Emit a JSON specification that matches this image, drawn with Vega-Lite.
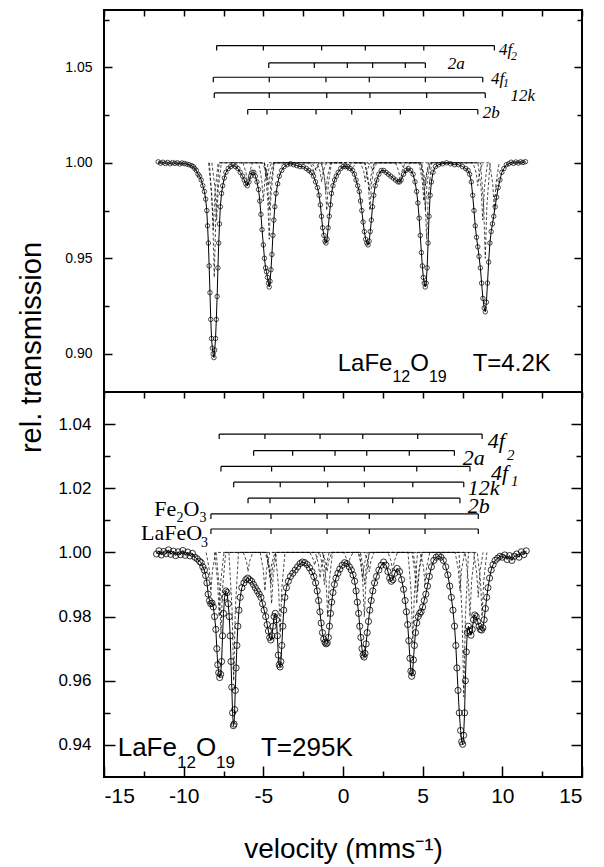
{
"$schema": "https://vega.github.io/schema/vega-lite/v6.json",
"autosize": {"type": "pad"},
"padding": {"left": 16, "top": 8, "right": 5, "bottom": 5},
"background": "white",
"bounds": "flush",
"spacing": 0,
"config": {"view": {"stroke": "black", "strokeWidth": 2}, "axis": {"domain": false, "grid": false, "tickColor": "black", "tickWidth": 1.5, "labelColor": "black", "labelFont": "Liberation Sans", "titleFont": "Liberation Sans", "titleColor": "black", "titleFontWeight": "normal"}},
"datasets": {
"top": [{"v":-11.6,"t":1.0005},{"v":-11.45,"t":0.9998},{"v":-11.3,"t":1.0003},{"v":-11.15,"t":0.9996},{"v":-11.0,"t":1.0002},{"v":-10.85,"t":0.9995},{"v":-10.7,"t":1.0001},{"v":-10.55,"t":0.9997},{"v":-10.4,"t":1.0},{"v":-10.25,"t":0.9994},{"v":-10.1,"t":0.9999},{"v":-9.95,"t":0.9996},{"v":-9.8,"t":0.9993},{"v":-9.65,"t":0.999},{"v":-9.5,"t":0.9985},{"v":-9.4,"t":0.998},{"v":-9.3,"t":0.997},{"v":-9.2,"t":0.996},{"v":-9.1,"t":0.994},{"v":-9.0,"t":0.993},{"v":-8.9,"t":0.991},{"v":-8.8,"t":0.988},{"v":-8.7,"t":0.985},{"v":-8.62,"t":0.981},{"v":-8.55,"t":0.975},{"v":-8.5,"t":0.967},{"v":-8.45,"t":0.958},{"v":-8.4,"t":0.946},{"v":-8.35,"t":0.932},{"v":-8.3,"t":0.918},{"v":-8.25,"t":0.908},{"v":-8.2,"t":0.903},{"v":-8.15,"t":0.9},{"v":-8.1,"t":0.898},{"v":-8.05,"t":0.902},{"v":-8.0,"t":0.908},{"v":-7.95,"t":0.918},{"v":-7.9,"t":0.93},{"v":-7.85,"t":0.945},{"v":-7.8,"t":0.958},{"v":-7.75,"t":0.968},{"v":-7.7,"t":0.977},{"v":-7.62,"t":0.984},{"v":-7.55,"t":0.988},{"v":-7.45,"t":0.992},{"v":-7.35,"t":0.995},{"v":-7.2,"t":0.997},{"v":-7.05,"t":0.998},{"v":-6.9,"t":0.999},{"v":-6.75,"t":0.998},{"v":-6.6,"t":0.997},{"v":-6.45,"t":0.995},{"v":-6.3,"t":0.993},{"v":-6.2,"t":0.991},{"v":-6.1,"t":0.989},{"v":-6.0,"t":0.988},{"v":-5.9,"t":0.99},{"v":-5.8,"t":0.993},{"v":-5.7,"t":0.995},{"v":-5.6,"t":0.995},{"v":-5.5,"t":0.993},{"v":-5.4,"t":0.99},{"v":-5.3,"t":0.986},{"v":-5.22,"t":0.98},{"v":-5.15,"t":0.973},{"v":-5.08,"t":0.965},{"v":-5.0,"t":0.957},{"v":-4.93,"t":0.95},{"v":-4.86,"t":0.945},{"v":-4.8,"t":0.943},{"v":-4.74,"t":0.94},{"v":-4.68,"t":0.937},{"v":-4.63,"t":0.935},{"v":-4.58,"t":0.938},{"v":-4.52,"t":0.944},{"v":-4.46,"t":0.952},{"v":-4.4,"t":0.962},{"v":-4.34,"t":0.97},{"v":-4.28,"t":0.977},{"v":-4.2,"t":0.984},{"v":-4.1,"t":0.989},{"v":-4.0,"t":0.993},{"v":-3.85,"t":0.996},{"v":-3.7,"t":0.998},{"v":-3.5,"t":0.999},{"v":-3.3,"t":0.9995},{"v":-3.1,"t":0.999},{"v":-2.9,"t":0.9985},{"v":-2.7,"t":0.998},{"v":-2.5,"t":0.998},{"v":-2.3,"t":0.997},{"v":-2.15,"t":0.996},{"v":-2.0,"t":0.995},{"v":-1.85,"t":0.993},{"v":-1.72,"t":0.99},{"v":-1.6,"t":0.987},{"v":-1.5,"t":0.983},{"v":-1.42,"t":0.978},{"v":-1.35,"t":0.972},{"v":-1.28,"t":0.966},{"v":-1.2,"t":0.962},{"v":-1.13,"t":0.959},{"v":-1.07,"t":0.958},{"v":-1.0,"t":0.96},{"v":-0.93,"t":0.966},{"v":-0.86,"t":0.972},{"v":-0.79,"t":0.978},{"v":-0.72,"t":0.984},{"v":-0.63,"t":0.988},{"v":-0.53,"t":0.991},{"v":-0.42,"t":0.993},{"v":-0.3,"t":0.995},{"v":-0.15,"t":0.997},{"v":0.0,"t":0.998},{"v":0.15,"t":0.998},{"v":0.3,"t":0.998},{"v":0.45,"t":0.997},{"v":0.6,"t":0.996},{"v":0.72,"t":0.994},{"v":0.82,"t":0.991},{"v":0.92,"t":0.988},{"v":1.02,"t":0.985},{"v":1.1,"t":0.98},{"v":1.18,"t":0.975},{"v":1.26,"t":0.969},{"v":1.34,"t":0.964},{"v":1.42,"t":0.96},{"v":1.5,"t":0.958},{"v":1.57,"t":0.957},{"v":1.64,"t":0.959},{"v":1.71,"t":0.964},{"v":1.78,"t":0.97},{"v":1.85,"t":0.977},{"v":1.93,"t":0.983},{"v":2.02,"t":0.988},{"v":2.12,"t":0.991},{"v":2.25,"t":0.994},{"v":2.4,"t":0.996},{"v":2.55,"t":0.996},{"v":2.7,"t":0.995},{"v":2.85,"t":0.994},{"v":3.0,"t":0.993},{"v":3.15,"t":0.992},{"v":3.3,"t":0.991},{"v":3.45,"t":0.99},{"v":3.55,"t":0.99},{"v":3.65,"t":0.991},{"v":3.8,"t":0.994},{"v":3.95,"t":0.996},{"v":4.1,"t":0.997},{"v":4.25,"t":0.996},{"v":4.4,"t":0.994},{"v":4.52,"t":0.99},{"v":4.62,"t":0.985},{"v":4.7,"t":0.979},{"v":4.78,"t":0.971},{"v":4.85,"t":0.962},{"v":4.92,"t":0.953},{"v":4.98,"t":0.946},{"v":5.04,"t":0.94},{"v":5.1,"t":0.937},{"v":5.16,"t":0.935},{"v":5.22,"t":0.937},{"v":5.28,"t":0.945},{"v":5.34,"t":0.958},{"v":5.4,"t":0.972},{"v":5.47,"t":0.983},{"v":5.55,"t":0.99},{"v":5.65,"t":0.995},{"v":5.8,"t":0.998},{"v":6.0,"t":0.999},{"v":6.25,"t":0.9995},{"v":6.5,"t":1.0},{"v":6.75,"t":0.9995},{"v":7.0,"t":0.999},{"v":7.25,"t":0.999},{"v":7.5,"t":0.998},{"v":7.7,"t":0.997},{"v":7.85,"t":0.996},{"v":7.95,"t":0.994},{"v":8.05,"t":0.99},{"v":8.14,"t":0.983},{"v":8.22,"t":0.975},{"v":8.3,"t":0.967},{"v":8.38,"t":0.961},{"v":8.46,"t":0.956},{"v":8.54,"t":0.951},{"v":8.62,"t":0.945},{"v":8.7,"t":0.937},{"v":8.78,"t":0.929},{"v":8.86,"t":0.924},{"v":8.93,"t":0.922},{"v":9.0,"t":0.927},{"v":9.07,"t":0.937},{"v":9.14,"t":0.948},{"v":9.22,"t":0.958},{"v":9.3,"t":0.964},{"v":9.38,"t":0.968},{"v":9.46,"t":0.972},{"v":9.55,"t":0.977},{"v":9.64,"t":0.982},{"v":9.74,"t":0.987},{"v":9.85,"t":0.991},{"v":9.97,"t":0.995},{"v":10.1,"t":0.997},{"v":10.25,"t":0.999},{"v":10.4,"t":0.9995},{"v":10.55,"t":1.0003},{"v":10.7,"t":0.9997},{"v":10.85,"t":1.0004},{"v":11.0,"t":0.9999},{"v":11.15,"t":1.0005},{"v":11.3,"t":1.0002},{"v":11.45,"t":1.0006}],
"topc": [
{"c":"12k","v":-8.38,"t":1},{"c":"12k","v":-8.18,"t":0.973},{"c":"12k","v":-8.08,"t":0.94},{"c":"12k","v":-7.98,"t":0.973},{"c":"12k","v":-7.78,"t":1},
{"c":"12k","v":-4.93,"t":1},{"c":"12k","v":-4.73,"t":0.982},{"c":"12k","v":-4.63,"t":0.96},{"c":"12k","v":-4.53,"t":0.982},{"c":"12k","v":-4.33,"t":1},
{"c":"12k","v":-1.32,"t":1},{"c":"12k","v":-1.12,"t":0.989},{"c":"12k","v":-1.02,"t":0.975},{"c":"12k","v":-0.92,"t":0.989},{"c":"12k","v":-0.72,"t":1},
{"c":"12k","v":1.39,"t":1},{"c":"12k","v":1.59,"t":0.989},{"c":"12k","v":1.69,"t":0.975},{"c":"12k","v":1.79,"t":0.989},{"c":"12k","v":1.99,"t":1},
{"c":"12k","v":4.95,"t":1},{"c":"12k","v":5.15,"t":0.982},{"c":"12k","v":5.25,"t":0.96},{"c":"12k","v":5.35,"t":0.982},{"c":"12k","v":5.55,"t":1},
{"c":"12k","v":8.63,"t":1},{"c":"12k","v":8.83,"t":0.9775},{"c":"12k","v":8.93,"t":0.95},{"c":"12k","v":9.03,"t":0.9775},{"c":"12k","v":9.23,"t":1},
{"c":"4f1","v":-8.44,"t":1},{"c":"4f1","v":-8.24,"t":0.984},{"c":"4f1","v":-8.14,"t":0.965},{"c":"4f1","v":-8.04,"t":0.984},{"c":"4f1","v":-7.84,"t":1},
{"c":"4f1","v":-4.93,"t":1},{"c":"4f1","v":-4.73,"t":0.989},{"c":"4f1","v":-4.63,"t":0.975},{"c":"4f1","v":-4.53,"t":0.989},{"c":"4f1","v":-4.33,"t":1},
{"c":"4f1","v":-1.37,"t":1},{"c":"4f1","v":-1.17,"t":0.993},{"c":"4f1","v":-1.07,"t":0.985},{"c":"4f1","v":-0.97,"t":0.993},{"c":"4f1","v":-0.77,"t":1},
{"c":"4f1","v":1.35,"t":1},{"c":"4f1","v":1.55,"t":0.993},{"c":"4f1","v":1.65,"t":0.985},{"c":"4f1","v":1.75,"t":0.993},{"c":"4f1","v":1.95,"t":1},
{"c":"4f1","v":4.87,"t":1},{"c":"4f1","v":5.07,"t":0.989},{"c":"4f1","v":5.17,"t":0.975},{"c":"4f1","v":5.27,"t":0.989},{"c":"4f1","v":5.47,"t":1},
{"c":"4f1","v":8.47,"t":1},{"c":"4f1","v":8.67,"t":0.9865},{"c":"4f1","v":8.77,"t":0.97},{"c":"4f1","v":8.87,"t":0.9865},{"c":"4f1","v":9.07,"t":1},
{"c":"4f2","v":-8.23,"t":1},{"c":"4f2","v":-8.03,"t":0.9865},{"c":"4f2","v":-7.93,"t":0.97},{"c":"4f2","v":-7.83,"t":0.9865},{"c":"4f2","v":-7.63,"t":1},
{"c":"4f2","v":-5.3,"t":1},{"c":"4f2","v":-5.1,"t":0.991},{"c":"4f2","v":-5.0,"t":0.98},{"c":"4f2","v":-4.9,"t":0.991},{"c":"4f2","v":-4.7,"t":1},
{"c":"4f2","v":-1.64,"t":1},{"c":"4f2","v":-1.44,"t":0.9955},{"c":"4f2","v":-1.34,"t":0.99},{"c":"4f2","v":-1.24,"t":0.9955},{"c":"4f2","v":-1.04,"t":1},
{"c":"4f2","v":1.1,"t":1},{"c":"4f2","v":1.3,"t":0.9955},{"c":"4f2","v":1.4,"t":0.99},{"c":"4f2","v":1.5,"t":0.9955},{"c":"4f2","v":1.7,"t":1},
{"c":"4f2","v":4.77,"t":1},{"c":"4f2","v":4.97,"t":0.991},{"c":"4f2","v":5.07,"t":0.98},{"c":"4f2","v":5.17,"t":0.991},{"c":"4f2","v":5.37,"t":1},
{"c":"4f2","v":9.2,"t":1},{"c":"4f2","v":9.4,"t":0.989},{"c":"4f2","v":9.5,"t":0.975},{"c":"4f2","v":9.6,"t":0.989},{"c":"4f2","v":9.8,"t":1},
{"c":"2a","v":-4.96,"t":1},{"c":"2a","v":-4.76,"t":0.9946},{"c":"2a","v":-4.66,"t":0.988},{"c":"2a","v":-4.56,"t":0.9946},{"c":"2a","v":-4.36,"t":1},
{"c":"2a","v":-2.1,"t":1},{"c":"2a","v":-1.9,"t":0.9973},{"c":"2a","v":-1.8,"t":0.994},{"c":"2a","v":-1.7,"t":0.9973},{"c":"2a","v":-1.5,"t":1},
{"c":"2a","v":-0.03,"t":1},{"c":"2a","v":0.17,"t":0.998},{"c":"2a","v":0.27,"t":0.996},{"c":"2a","v":0.37,"t":0.998},{"c":"2a","v":0.57,"t":1},
{"c":"2a","v":1.56,"t":1},{"c":"2a","v":1.76,"t":0.998},{"c":"2a","v":1.86,"t":0.996},{"c":"2a","v":1.96,"t":0.998},{"c":"2a","v":2.16,"t":1},
{"c":"2a","v":3.61,"t":1},{"c":"2a","v":3.81,"t":0.9973},{"c":"2a","v":3.91,"t":0.994},{"c":"2a","v":4.01,"t":0.9973},{"c":"2a","v":4.21,"t":1},
{"c":"2a","v":4.87,"t":1},{"c":"2a","v":5.07,"t":0.9946},{"c":"2a","v":5.17,"t":0.988},{"c":"2a","v":5.27,"t":0.9946},{"c":"2a","v":5.47,"t":1},
{"c":"2b","v":-6.28,"t":1},{"c":"2b","v":-6.08,"t":0.9946},{"c":"2b","v":-5.98,"t":0.988},{"c":"2b","v":-5.88,"t":0.9946},{"c":"2b","v":-5.68,"t":1},
{"c":"2b","v":-5.07,"t":1},{"c":"2b","v":-4.87,"t":0.9964},{"c":"2b","v":-4.77,"t":0.992},{"c":"2b","v":-4.67,"t":0.9964},{"c":"2b","v":-4.47,"t":1},
{"c":"2b","v":-1.99,"t":1},{"c":"2b","v":-1.79,"t":0.998},{"c":"2b","v":-1.69,"t":0.996},{"c":"2b","v":-1.59,"t":0.998},{"c":"2b","v":-1.39,"t":1},
{"c":"2b","v":0.25,"t":1},{"c":"2b","v":0.45,"t":0.998},{"c":"2b","v":0.55,"t":0.996},{"c":"2b","v":0.65,"t":0.998},{"c":"2b","v":0.85,"t":1},
{"c":"2b","v":3.3,"t":1},{"c":"2b","v":3.5,"t":0.9955},{"c":"2b","v":3.6,"t":0.99},{"c":"2b","v":3.7,"t":0.9955},{"c":"2b","v":3.9,"t":1},
{"c":"2b","v":8.16,"t":1},{"c":"2b","v":8.36,"t":0.9946},{"c":"2b","v":8.46,"t":0.988},{"c":"2b","v":8.56,"t":0.9946},{"c":"2b","v":8.76,"t":1}],
"tops": [
{"s":"4f2","v":-7.93,"t":1.0614},{"s":"4f2","v":-5.0,"t":1.0614},{"s":"4f2","v":-1.34,"t":1.0614},{"s":"4f2","v":1.4,"t":1.0614},{"s":"4f2","v":5.07,"t":1.0614},{"s":"4f2","v":9.5,"t":1.0614},
{"s":"2a","v":-4.66,"t":1.0523},{"s":"2a","v":-1.8,"t":1.0523},{"s":"2a","v":0.27,"t":1.0523},{"s":"2a","v":1.86,"t":1.0523},{"s":"2a","v":3.91,"t":1.0523},{"s":"2a","v":5.17,"t":1.0523},
{"s":"4f1","v":-8.14,"t":1.0448},{"s":"4f1","v":-4.63,"t":1.0448},{"s":"4f1","v":-1.07,"t":1.0448},{"s":"4f1","v":1.65,"t":1.0448},{"s":"4f1","v":5.17,"t":1.0448},{"s":"4f1","v":8.77,"t":1.0448},
{"s":"12k","v":-8.08,"t":1.0366},{"s":"12k","v":-4.63,"t":1.0366},{"s":"12k","v":-1.02,"t":1.0366},{"s":"12k","v":1.69,"t":1.0366},{"s":"12k","v":5.25,"t":1.0366},{"s":"12k","v":8.93,"t":1.0366},
{"s":"2b","v":-5.98,"t":1.0279},{"s":"2b","v":-4.77,"t":1.0279},{"s":"2b","v":-1.69,"t":1.0279},{"s":"2b","v":0.55,"t":1.0279},{"s":"2b","v":3.6,"t":1.0279},{"s":"2b","v":8.46,"t":1.0279}],
"toplab": [{"v":9.79,"t":1.0562,"txt":"4f"},{"v":6.57,"t":1.0492,"txt":"2a"},{"v":9.29,"t":1.0415,"txt":"4f"},{"v":10.52,"t":1.0326,"txt":"12k"},{"v":8.77,"t":1.0236,"txt":"2b"}],
"toplabsub": [{"v":10.55,"t":1.0536,"txt":"2"},{"v":10.04,"t":1.0399,"txt":"1"}],
"topann": [{"v":-0.33,"t":0.891,"txt":"LaFe"},{"v":4.22,"t":0.891,"txt":"O"},{"v":8.14,"t":0.891,"txt":"T=4.2K"}],
"topannsub": [{"v":3.1,"t":0.8851,"txt":"12"},{"v":5.39,"t":0.8851,"txt":"19"}],
"bot": [{"v":-11.7,"t":0.9995},{"v":-11.55,"t":1.0005},{"v":-11.4,"t":0.9992},{"v":-11.25,"t":1.0003},{"v":-11.1,"t":0.9996},{"v":-10.95,"t":1.0008},{"v":-10.8,"t":0.9994},{"v":-10.65,"t":1.0004},{"v":-10.5,"t":0.999},{"v":-10.35,"t":1.0002},{"v":-10.2,"t":0.9993},{"v":-10.05,"t":1.0006},{"v":-9.9,"t":0.9991},{"v":-9.75,"t":1.0001},{"v":-9.6,"t":0.9989},{"v":-9.45,"t":0.9997},{"v":-9.3,"t":0.9985},{"v":-9.15,"t":0.998},{"v":-9.0,"t":0.9972},{"v":-8.9,"t":0.9968},{"v":-8.8,"t":0.9955},{"v":-8.7,"t":0.9945},{"v":-8.62,"t":0.9928},{"v":-8.54,"t":0.9905},{"v":-8.46,"t":0.987},{"v":-8.38,"t":0.985},{"v":-8.3,"t":0.984},{"v":-8.22,"t":0.9842},{"v":-8.14,"t":0.983},{"v":-8.06,"t":0.98},{"v":-7.98,"t":0.976},{"v":-7.92,"t":0.97},{"v":-7.86,"t":0.965},{"v":-7.8,"t":0.9625},{"v":-7.74,"t":0.961},{"v":-7.68,"t":0.962},{"v":-7.62,"t":0.966},{"v":-7.56,"t":0.974},{"v":-7.5,"t":0.981},{"v":-7.43,"t":0.986},{"v":-7.35,"t":0.988},{"v":-7.28,"t":0.9875},{"v":-7.2,"t":0.984},{"v":-7.14,"t":0.98},{"v":-7.08,"t":0.974},{"v":-7.03,"t":0.966},{"v":-6.98,"t":0.958},{"v":-6.93,"t":0.95},{"v":-6.88,"t":0.946},{"v":-6.84,"t":0.9465},{"v":-6.8,"t":0.951},{"v":-6.76,"t":0.957},{"v":-6.71,"t":0.964},{"v":-6.66,"t":0.971},{"v":-6.6,"t":0.977},{"v":-6.53,"t":0.982},{"v":-6.45,"t":0.986},{"v":-6.35,"t":0.989},{"v":-6.22,"t":0.9905},{"v":-6.1,"t":0.9915},{"v":-5.98,"t":0.992},{"v":-5.86,"t":0.9915},{"v":-5.74,"t":0.991},{"v":-5.62,"t":0.99},{"v":-5.5,"t":0.989},{"v":-5.38,"t":0.988},{"v":-5.26,"t":0.987},{"v":-5.15,"t":0.986},{"v":-5.05,"t":0.984},{"v":-4.95,"t":0.982},{"v":-4.85,"t":0.98},{"v":-4.76,"t":0.9775},{"v":-4.68,"t":0.9755},{"v":-4.6,"t":0.9735},{"v":-4.53,"t":0.9727},{"v":-4.46,"t":0.974},{"v":-4.39,"t":0.977},{"v":-4.32,"t":0.98},{"v":-4.25,"t":0.981},{"v":-4.18,"t":0.979},{"v":-4.12,"t":0.974},{"v":-4.06,"t":0.968},{"v":-4.0,"t":0.965},{"v":-3.95,"t":0.9643},{"v":-3.9,"t":0.966},{"v":-3.84,"t":0.971},{"v":-3.78,"t":0.977},{"v":-3.72,"t":0.982},{"v":-3.65,"t":0.986},{"v":-3.55,"t":0.989},{"v":-3.43,"t":0.991},{"v":-3.3,"t":0.9925},{"v":-3.15,"t":0.9935},{"v":-3.0,"t":0.9945},{"v":-2.85,"t":0.9955},{"v":-2.7,"t":0.9965},{"v":-2.55,"t":0.997},{"v":-2.4,"t":0.9968},{"v":-2.25,"t":0.9962},{"v":-2.1,"t":0.9952},{"v":-1.95,"t":0.994},{"v":-1.83,"t":0.9925},{"v":-1.72,"t":0.9905},{"v":-1.62,"t":0.988},{"v":-1.53,"t":0.985},{"v":-1.45,"t":0.9815},{"v":-1.37,"t":0.978},{"v":-1.29,"t":0.975},{"v":-1.21,"t":0.973},{"v":-1.13,"t":0.972},{"v":-1.06,"t":0.9715},{"v":-0.99,"t":0.9718},{"v":-0.92,"t":0.9735},{"v":-0.85,"t":0.977},{"v":-0.78,"t":0.981},{"v":-0.71,"t":0.9845},{"v":-0.63,"t":0.9875},{"v":-0.54,"t":0.99},{"v":-0.44,"t":0.992},{"v":-0.32,"t":0.9935},{"v":-0.2,"t":0.9948},{"v":-0.05,"t":0.996},{"v":0.1,"t":0.9968},{"v":0.25,"t":0.9965},{"v":0.4,"t":0.9955},{"v":0.52,"t":0.9945},{"v":0.63,"t":0.993},{"v":0.73,"t":0.991},{"v":0.82,"t":0.988},{"v":0.9,"t":0.9845},{"v":0.98,"t":0.981},{"v":1.05,"t":0.977},{"v":1.12,"t":0.9735},{"v":1.19,"t":0.97},{"v":1.26,"t":0.968},{"v":1.32,"t":0.9674},{"v":1.38,"t":0.9685},{"v":1.45,"t":0.9715},{"v":1.52,"t":0.975},{"v":1.6,"t":0.9785},{"v":1.68,"t":0.982},{"v":1.77,"t":0.985},{"v":1.87,"t":0.988},{"v":1.98,"t":0.9905},{"v":2.1,"t":0.9925},{"v":2.25,"t":0.9945},{"v":2.4,"t":0.996},{"v":2.55,"t":0.997},{"v":2.7,"t":0.996},{"v":2.82,"t":0.994},{"v":2.93,"t":0.992},{"v":3.03,"t":0.991},{"v":3.13,"t":0.9915},{"v":3.25,"t":0.9935},{"v":3.4,"t":0.995},{"v":3.55,"t":0.994},{"v":3.68,"t":0.9915},{"v":3.8,"t":0.9885},{"v":3.9,"t":0.985},{"v":3.98,"t":0.9815},{"v":4.06,"t":0.9775},{"v":4.13,"t":0.9725},{"v":4.2,"t":0.967},{"v":4.26,"t":0.963},{"v":4.31,"t":0.9614},{"v":4.36,"t":0.9625},{"v":4.42,"t":0.9665},{"v":4.48,"t":0.971},{"v":4.55,"t":0.975},{"v":4.63,"t":0.978},{"v":4.72,"t":0.98},{"v":4.81,"t":0.981},{"v":4.9,"t":0.9815},{"v":5.0,"t":0.983},{"v":5.1,"t":0.985},{"v":5.2,"t":0.987},{"v":5.3,"t":0.9895},{"v":5.42,"t":0.9925},{"v":5.55,"t":0.9955},{"v":5.7,"t":0.9975},{"v":5.85,"t":0.9985},{"v":6.0,"t":0.999},{"v":6.15,"t":0.9985},{"v":6.3,"t":0.9975},{"v":6.45,"t":0.9955},{"v":6.58,"t":0.993},{"v":6.7,"t":0.9895},{"v":6.8,"t":0.986},{"v":6.9,"t":0.982},{"v":7.0,"t":0.977},{"v":7.08,"t":0.971},{"v":7.15,"t":0.964},{"v":7.22,"t":0.957},{"v":7.3,"t":0.95},{"v":7.38,"t":0.9445},{"v":7.45,"t":0.941},{"v":7.51,"t":0.9402},{"v":7.57,"t":0.943},{"v":7.63,"t":0.95},{"v":7.68,"t":0.96},{"v":7.74,"t":0.969},{"v":7.8,"t":0.975},{"v":7.87,"t":0.977},{"v":7.95,"t":0.9755},{"v":8.03,"t":0.9742},{"v":8.11,"t":0.976},{"v":8.19,"t":0.979},{"v":8.27,"t":0.9805},{"v":8.36,"t":0.98},{"v":8.45,"t":0.9785},{"v":8.54,"t":0.977},{"v":8.62,"t":0.976},{"v":8.7,"t":0.9758},{"v":8.78,"t":0.9765},{"v":8.86,"t":0.979},{"v":8.94,"t":0.9825},{"v":9.02,"t":0.986},{"v":9.1,"t":0.989},{"v":9.2,"t":0.992},{"v":9.3,"t":0.9945},{"v":9.42,"t":0.9962},{"v":9.55,"t":0.9975},{"v":9.7,"t":0.9982},{"v":9.85,"t":0.9988},{"v":10.0,"t":0.9985},{"v":10.15,"t":0.9992},{"v":10.3,"t":0.9978},{"v":10.45,"t":0.999},{"v":10.6,"t":0.9975},{"v":10.75,"t":0.9988},{"v":10.9,"t":0.9995},{"v":11.05,"t":0.9985},{"v":11.2,"t":1.0002},{"v":11.35,"t":0.9993},{"v":11.5,"t":1.0005}],
"botc": [
{"c":"12k","v":-7.16,"t":1},{"c":"12k","v":-6.96,"t":0.982},{"c":"12k","v":-6.86,"t":0.96},{"c":"12k","v":-6.76,"t":0.982},{"c":"12k","v":-6.56,"t":1},
{"c":"12k","v":-4.24,"t":1},{"c":"12k","v":-4.04,"t":0.9888},{"c":"12k","v":-3.94,"t":0.975},{"c":"12k","v":-3.84,"t":0.9888},{"c":"12k","v":-3.64,"t":1},
{"c":"12k","v":-1.26,"t":1},{"c":"12k","v":-1.06,"t":0.991},{"c":"12k","v":-0.96,"t":0.98},{"c":"12k","v":-0.86,"t":0.991},{"c":"12k","v":-0.66,"t":1},
{"c":"12k","v":1.04,"t":1},{"c":"12k","v":1.24,"t":0.991},{"c":"12k","v":1.34,"t":0.98},{"c":"12k","v":1.44,"t":0.991},{"c":"12k","v":1.64,"t":1},
{"c":"12k","v":4.08,"t":1},{"c":"12k","v":4.28,"t":0.9874},{"c":"12k","v":4.38,"t":0.972},{"c":"12k","v":4.48,"t":0.9874},{"c":"12k","v":4.68,"t":1},
{"c":"12k","v":7.28,"t":1},{"c":"12k","v":7.48,"t":0.9798},{"c":"12k","v":7.58,"t":0.955},{"c":"12k","v":7.68,"t":0.9798},{"c":"12k","v":7.88,"t":1},
{"c":"4f1","v":-7.96,"t":1},{"c":"4f1","v":-7.76,"t":0.9888},{"c":"4f1","v":-7.66,"t":0.975},{"c":"4f1","v":-7.56,"t":0.9888},{"c":"4f1","v":-7.36,"t":1},
{"c":"4f1","v":-4.78,"t":1},{"c":"4f1","v":-4.58,"t":0.9928},{"c":"4f1","v":-4.48,"t":0.984},{"c":"4f1","v":-4.38,"t":0.9928},{"c":"4f1","v":-4.18,"t":1},
{"c":"4f1","v":-1.47,"t":1},{"c":"4f1","v":-1.27,"t":0.9955},{"c":"4f1","v":-1.17,"t":0.99},{"c":"4f1","v":-1.07,"t":0.9955},{"c":"4f1","v":-0.87,"t":1},
{"c":"4f1","v":1.09,"t":1},{"c":"4f1","v":1.26,"t":0.9955},{"c":"4f1","v":1.36,"t":0.99},{"c":"4f1","v":1.46,"t":0.9955},{"c":"4f1","v":1.66,"t":1},
{"c":"4f1","v":4.33,"t":1},{"c":"4f1","v":4.53,"t":0.9928},{"c":"4f1","v":4.63,"t":0.984},{"c":"4f1","v":4.73,"t":0.9928},{"c":"4f1","v":4.93,"t":1},
{"c":"4f1","v":7.67,"t":1},{"c":"4f1","v":7.87,"t":0.991},{"c":"4f1","v":7.97,"t":0.98},{"c":"4f1","v":8.07,"t":0.991},{"c":"4f1","v":8.27,"t":1},
{"c":"4f2","v":-8.07,"t":1},{"c":"4f2","v":-7.87,"t":0.991},{"c":"4f2","v":-7.77,"t":0.98},{"c":"4f2","v":-7.67,"t":0.991},{"c":"4f2","v":-7.47,"t":1},
{"c":"4f2","v":-5.2,"t":1},{"c":"4f2","v":-5.0,"t":0.9946},{"c":"4f2","v":-4.9,"t":0.988},{"c":"4f2","v":-4.8,"t":0.9946},{"c":"4f2","v":-4.6,"t":1},
{"c":"4f2","v":-1.74,"t":1},{"c":"4f2","v":-1.54,"t":0.9964},{"c":"4f2","v":-1.44,"t":0.992},{"c":"4f2","v":-1.34,"t":0.9964},{"c":"4f2","v":-1.14,"t":1},
{"c":"4f2","v":0.94,"t":1},{"c":"4f2","v":1.14,"t":0.9964},{"c":"4f2","v":1.24,"t":0.992},{"c":"4f2","v":1.34,"t":0.9964},{"c":"4f2","v":1.54,"t":1},
{"c":"4f2","v":4.39,"t":1},{"c":"4f2","v":4.59,"t":0.9946},{"c":"4f2","v":4.69,"t":0.988},{"c":"4f2","v":4.79,"t":0.9946},{"c":"4f2","v":4.99,"t":1},
{"c":"4f2","v":8.43,"t":1},{"c":"4f2","v":8.63,"t":0.991},{"c":"4f2","v":8.73,"t":0.98},{"c":"4f2","v":8.83,"t":0.991},{"c":"4f2","v":9.03,"t":1},
{"c":"2b","v":-6.26,"t":1},{"c":"2b","v":-6.06,"t":0.9973},{"c":"2b","v":-5.96,"t":0.994},{"c":"2b","v":-5.86,"t":0.9973},{"c":"2b","v":-5.66,"t":1},
{"c":"2b","v":-4.88,"t":1},{"c":"2b","v":-4.68,"t":0.9964},{"c":"2b","v":-4.58,"t":0.992},{"c":"2b","v":-4.48,"t":0.9964},{"c":"2b","v":-4.28,"t":1},
{"c":"2b","v":-2.08,"t":1},{"c":"2b","v":-1.88,"t":0.998},{"c":"2b","v":-1.78,"t":0.996},{"c":"2b","v":-1.68,"t":0.998},{"c":"2b","v":-1.48,"t":1},
{"c":"2b","v":0.03,"t":1},{"c":"2b","v":0.23,"t":0.998},{"c":"2b","v":0.33,"t":0.996},{"c":"2b","v":0.43,"t":0.998},{"c":"2b","v":0.63,"t":1},
{"c":"2b","v":2.82,"t":1},{"c":"2b","v":3.02,"t":0.9973},{"c":"2b","v":3.12,"t":0.994},{"c":"2b","v":3.22,"t":0.9973},{"c":"2b","v":3.42,"t":1},
{"c":"2b","v":7.04,"t":1},{"c":"2b","v":7.24,"t":0.9946},{"c":"2b","v":7.34,"t":0.988},{"c":"2b","v":7.44,"t":0.9946},{"c":"2b","v":7.64,"t":1},
{"c":"Fe","v":-8.59,"t":1},{"c":"Fe","v":-8.39,"t":0.9946},{"c":"Fe","v":-8.29,"t":0.988},{"c":"Fe","v":-8.19,"t":0.9946},{"c":"Fe","v":-7.99,"t":1},
{"c":"Fe","v":-4.82,"t":1},{"c":"Fe","v":-4.62,"t":0.9955},{"c":"Fe","v":-4.52,"t":0.99},{"c":"Fe","v":-4.42,"t":0.9955},{"c":"Fe","v":-4.22,"t":1},
{"c":"Fe","v":-1.3,"t":1},{"c":"Fe","v":-1.1,"t":0.9973},{"c":"Fe","v":-1.0,"t":0.994},{"c":"Fe","v":-0.9,"t":0.9973},{"c":"Fe","v":-0.7,"t":1},
{"c":"Fe","v":1.35,"t":1},{"c":"Fe","v":1.55,"t":0.9973},{"c":"Fe","v":1.65,"t":0.994},{"c":"Fe","v":1.75,"t":0.9973},{"c":"Fe","v":1.95,"t":1},
{"c":"Fe","v":4.85,"t":1},{"c":"Fe","v":5.05,"t":0.9955},{"c":"Fe","v":5.15,"t":0.99},{"c":"Fe","v":5.25,"t":0.9955},{"c":"Fe","v":5.45,"t":1},
{"c":"Fe","v":8.19,"t":1},{"c":"Fe","v":8.39,"t":0.9937},{"c":"Fe","v":8.49,"t":0.986},{"c":"Fe","v":8.59,"t":0.9937},{"c":"Fe","v":8.79,"t":1}],
"bots": [
{"s":"4f2","v":-7.77,"t":1.0369},{"s":"4f2","v":-4.9,"t":1.0369},{"s":"4f2","v":-1.44,"t":1.0369},{"s":"4f2","v":1.24,"t":1.0369},{"s":"4f2","v":4.69,"t":1.0369},{"s":"4f2","v":8.73,"t":1.0369},
{"s":"2a","v":-5.61,"t":1.0317},{"s":"2a","v":-3.16,"t":1.0317},{"s":"2a","v":-0.5,"t":1.0317},{"s":"2a","v":1.49,"t":1.0317},{"s":"2a","v":4.16,"t":1.0317},{"s":"2a","v":6.99,"t":1.0317},
{"s":"4f1","v":-7.66,"t":1.0268},{"s":"4f1","v":-4.48,"t":1.0268},{"s":"4f1","v":-1.17,"t":1.0268},{"s":"4f1","v":1.34,"t":1.0268},{"s":"4f1","v":4.63,"t":1.0268},{"s":"4f1","v":7.97,"t":1.0268},
{"s":"12k","v":-6.86,"t":1.0219},{"s":"12k","v":-3.94,"t":1.0219},{"s":"12k","v":-0.96,"t":1.0219},{"s":"12k","v":1.34,"t":1.0219},{"s":"12k","v":4.38,"t":1.0219},{"s":"12k","v":7.58,"t":1.0219},
{"s":"2b","v":-5.96,"t":1.0169},{"s":"2b","v":-4.58,"t":1.0169},{"s":"2b","v":-1.78,"t":1.0169},{"s":"2b","v":0.33,"t":1.0169},{"s":"2b","v":3.12,"t":1.0169},{"s":"2b","v":7.34,"t":1.0169},
{"s":"Fe2O3","v":-8.29,"t":1.012},{"s":"Fe2O3","v":-4.52,"t":1.012},{"s":"Fe2O3","v":-1.0,"t":1.012},{"s":"Fe2O3","v":1.65,"t":1.012},{"s":"Fe2O3","v":5.15,"t":1.012},{"s":"Fe2O3","v":8.49,"t":1.012},
{"s":"LaFeO3","v":-8.29,"t":1.0073},{"s":"LaFeO3","v":-4.52,"t":1.0073},{"s":"LaFeO3","v":-1.0,"t":1.0073},{"s":"LaFeO3","v":1.65,"t":1.0073},{"s":"LaFeO3","v":5.15,"t":1.0073},{"s":"LaFeO3","v":8.49,"t":1.0073}],
"botlab": [{"v":9.08,"t":1.0326,"txt":"4f"},{"v":7.51,"t":1.0273,"txt":"2a"},{"v":9.29,"t":1.0227,"txt":"4f"},{"v":7.83,"t":1.018,"txt":"12k"},{"v":7.83,"t":1.0123,"txt":"2b"}],
"botlabsub": [{"v":10.3,"t":1.0289,"txt":"2"},{"v":10.55,"t":1.0206,"txt":"1"}],
"botcmp": [{"v":-11.85,"t":1.0112,"txt":"Fe"},{"v":-10.01,"t":1.0112,"txt":"O"},{"v":-12.68,"t":1.0039,"txt":"LaFeO"}],
"botcmpsub": [{"v":-10.45,"t":1.0096,"txt":"2"},{"v":-9.01,"t":1.0096,"txt":"3"},{"v":-8.91,"t":1.0017,"txt":"3"}],
"botann": [{"v":-14.14,"t":0.9367,"txt":"LaFe"},{"v":-9.23,"t":0.9367,"txt":"O"},{"v":-5.15,"t":0.9367,"txt":"T=295K"}],
"botannsub": [{"v":-10.42,"t":0.9327,"txt":"12"},{"v":-7.97,"t":0.9327,"txt":"19"}]
},
"vconcat": [
{
"width": 478, "height": 382,
"resolve": {"axis": {"x": "independent", "y": "independent"}},
"layer": [
{"data": {"name": "top"}, "mark": {"type": "point", "shape": "circle", "filled": false, "stroke": "black", "strokeWidth": 0.7, "size": 20, "opacity": 1},
 "encoding": {
  "x": {"field": "v", "type": "quantitative", "scale": {"domain": [-15, 15], "nice": false, "zero": false}, "axis": {"orient": "top", "values": [-15,-12.5,-10,-7.5,-5,-2.5,0,2.5,5,7.5,10,12.5,15], "labels": false, "tickSize": -6, "title": null}},
  "y": {"field": "t", "type": "quantitative", "scale": {"domain": [0.88, 1.08], "nice": false, "zero": false}, "axis": {"orient": "left", "values": [0.9, 0.95, 1.0, 1.05], "format": ".2f", "tickSize": -8, "labelPadding": 20, "labelFontSize": 14, "title": "rel. transmission", "titleFontSize": 29, "titleX": -64, "titleY": 337, "titleAngle": 270, "titleAlign": "center", "titleBaseline": "alphabetic"}}}},
{"data": {"name": "top"}, "mark": {"type": "line", "color": "black", "strokeWidth": 1},
 "encoding": {
  "x": {"field": "v", "type": "quantitative", "scale": {"domain": [-15, 15], "nice": false, "zero": false}, "axis": null},
  "y": {"field": "t", "type": "quantitative", "scale": {"domain": [0.88, 1.08], "nice": false, "zero": false}, "axis": {"orient": "left", "values": [0.925, 0.975, 1.025, 1.075], "labels": false, "tickSize": -5, "title": null}}}},
{"data": {"name": "topc"}, "mark": {"type": "line", "color": "black", "strokeWidth": 0.7, "strokeDash": [3, 2]},
 "encoding": {
  "x": {"field": "v", "type": "quantitative", "scale": {"domain": [-15, 15], "nice": false, "zero": false}, "axis": null},
  "y": {"field": "t", "type": "quantitative", "scale": {"domain": [0.88, 1.08], "nice": false, "zero": false}, "axis": {"orient": "right", "values": [0.9, 0.95, 1.0, 1.05], "labels": false, "tickSize": -8, "title": null}},
  "detail": {"field": "c"}}},
{"data": {"name": "tops"}, "mark": {"type": "line", "color": "black", "strokeWidth": 1.2},
 "encoding": {
  "x": {"field": "v", "type": "quantitative", "scale": {"domain": [-15, 15], "nice": false, "zero": false}, "axis": null},
  "y": {"field": "t", "type": "quantitative", "scale": {"domain": [0.88, 1.08], "nice": false, "zero": false}, "axis": {"orient": "right", "values": [0.925, 0.975, 1.025, 1.075], "labels": false, "tickSize": -5, "title": null}},
  "detail": {"field": "s"}}},
{"data": {"name": "tops"}, "mark": {"type": "tick", "orient": "vertical", "color": "black", "size": 5, "thickness": 1.2, "yOffset": 2.5, "opacity": 1},
 "encoding": {
  "x": {"field": "v", "type": "quantitative", "scale": {"domain": [-15, 15], "nice": false, "zero": false}, "axis": null},
  "y": {"field": "t", "type": "quantitative", "scale": {"domain": [0.88, 1.08], "nice": false, "zero": false}, "axis": null}}},
{"data": {"name": "toplab"}, "mark": {"type": "text", "font": "Liberation Serif", "fontStyle": "italic", "fontSize": 17, "align": "left", "baseline": "alphabetic", "color": "black"},
 "encoding": {
  "x": {"field": "v", "type": "quantitative", "scale": {"domain": [-15, 15], "nice": false, "zero": false}, "axis": null},
  "y": {"field": "t", "type": "quantitative", "scale": {"domain": [0.88, 1.08], "nice": false, "zero": false}, "axis": null},
  "text": {"field": "txt"}}},
{"data": {"name": "toplabsub"}, "mark": {"type": "text", "font": "Liberation Serif", "fontStyle": "italic", "fontSize": 12, "align": "left", "baseline": "alphabetic", "color": "black"},
 "encoding": {
  "x": {"field": "v", "type": "quantitative", "scale": {"domain": [-15, 15], "nice": false, "zero": false}, "axis": null},
  "y": {"field": "t", "type": "quantitative", "scale": {"domain": [0.88, 1.08], "nice": false, "zero": false}, "axis": null},
  "text": {"field": "txt"}}},
{"data": {"name": "topann"}, "mark": {"type": "text", "font": "Liberation Sans", "fontSize": 24, "align": "left", "baseline": "alphabetic", "color": "black"},
 "encoding": {
  "x": {"field": "v", "type": "quantitative", "scale": {"domain": [-15, 15], "nice": false, "zero": false}, "axis": null},
  "y": {"field": "t", "type": "quantitative", "scale": {"domain": [0.88, 1.08], "nice": false, "zero": false}, "axis": null},
  "text": {"field": "txt"}}},
{"data": {"name": "topannsub"}, "mark": {"type": "text", "font": "Liberation Sans", "fontSize": 16, "align": "left", "baseline": "alphabetic", "color": "black"},
 "encoding": {
  "x": {"field": "v", "type": "quantitative", "scale": {"domain": [-15, 15], "nice": false, "zero": false}, "axis": null},
  "y": {"field": "t", "type": "quantitative", "scale": {"domain": [0.88, 1.08], "nice": false, "zero": false}, "axis": null},
  "text": {"field": "txt"}}}
]
},
{
"width": 478, "height": 385,
"resolve": {"axis": {"x": "independent", "y": "independent"}},
"layer": [
{"data": {"name": "bot"}, "mark": {"type": "point", "shape": "circle", "filled": false, "stroke": "black", "strokeWidth": 0.8, "size": 38, "opacity": 1},
 "encoding": {
  "x": {"field": "v", "type": "quantitative", "scale": {"domain": [-15, 15], "nice": false, "zero": false}, "axis": {"orient": "bottom", "values": [-15,-10,-5,0,5,10,15], "labelExpr": "'' + datum.value", "tickSize": -11, "labelPadding": 19, "labelFontSize": 21, "title": "velocity (mms⁻¹)", "titleFontSize": 28, "titleY": 80, "titleBaseline": "alphabetic"}},
  "y": {"field": "t", "type": "quantitative", "scale": {"domain": [0.93, 1.05], "nice": false, "zero": false}, "axis": {"orient": "left", "values": [0.94, 0.96, 0.98, 1.0, 1.02, 1.04], "format": ".2f", "tickSize": -11, "labelPadding": 24, "labelFontSize": 17, "title": null}}}},
{"data": {"name": "bot"}, "mark": {"type": "line", "color": "black", "strokeWidth": 1},
 "encoding": {
  "x": {"field": "v", "type": "quantitative", "scale": {"domain": [-15, 15], "nice": false, "zero": false}, "axis": {"orient": "bottom", "values": [-12.5,-7.5,-2.5,2.5,7.5,12.5], "labels": false, "tickSize": -6, "title": null}},
  "y": {"field": "t", "type": "quantitative", "scale": {"domain": [0.93, 1.05], "nice": false, "zero": false}, "axis": {"orient": "left", "values": [0.95, 0.97, 0.99, 1.01, 1.03], "labels": false, "tickSize": -6, "title": null}}}},
{"data": {"name": "botc"}, "mark": {"type": "line", "color": "black", "strokeWidth": 0.7, "strokeDash": [3, 2]},
 "encoding": {
  "x": {"field": "v", "type": "quantitative", "scale": {"domain": [-15, 15], "nice": false, "zero": false}, "axis": {"orient": "top", "values": [-15,-12.5,-10,-7.5,-5,-2.5,0,2.5,5,7.5,10,12.5,15], "labels": false, "tickSize": -6, "title": null}},
  "y": {"field": "t", "type": "quantitative", "scale": {"domain": [0.93, 1.05], "nice": false, "zero": false}, "axis": {"orient": "right", "values": [0.94, 0.96, 0.98, 1.0, 1.02, 1.04], "labels": false, "tickSize": -11, "title": null}},
  "detail": {"field": "c"}}},
{"data": {"name": "bots"}, "mark": {"type": "line", "color": "black", "strokeWidth": 1.2},
 "encoding": {
  "x": {"field": "v", "type": "quantitative", "scale": {"domain": [-15, 15], "nice": false, "zero": false}, "axis": null},
  "y": {"field": "t", "type": "quantitative", "scale": {"domain": [0.93, 1.05], "nice": false, "zero": false}, "axis": {"orient": "right", "values": [0.95, 0.97, 0.99, 1.01, 1.03], "labels": false, "tickSize": -6, "title": null}},
  "detail": {"field": "s"}}},
{"data": {"name": "bots"}, "mark": {"type": "tick", "orient": "vertical", "color": "black", "size": 5, "thickness": 1.2, "yOffset": 2.5, "opacity": 1},
 "encoding": {
  "x": {"field": "v", "type": "quantitative", "scale": {"domain": [-15, 15], "nice": false, "zero": false}, "axis": null},
  "y": {"field": "t", "type": "quantitative", "scale": {"domain": [0.93, 1.05], "nice": false, "zero": false}, "axis": null}}},
{"data": {"name": "botlab"}, "mark": {"type": "text", "font": "Liberation Serif", "fontStyle": "italic", "fontSize": 22, "align": "left", "baseline": "alphabetic", "color": "black"},
 "encoding": {
  "x": {"field": "v", "type": "quantitative", "scale": {"domain": [-15, 15], "nice": false, "zero": false}, "axis": null},
  "y": {"field": "t", "type": "quantitative", "scale": {"domain": [0.93, 1.05], "nice": false, "zero": false}, "axis": null},
  "text": {"field": "txt"}}},
{"data": {"name": "botlabsub"}, "mark": {"type": "text", "font": "Liberation Serif", "fontStyle": "italic", "fontSize": 15, "align": "left", "baseline": "alphabetic", "color": "black"},
 "encoding": {
  "x": {"field": "v", "type": "quantitative", "scale": {"domain": [-15, 15], "nice": false, "zero": false}, "axis": null},
  "y": {"field": "t", "type": "quantitative", "scale": {"domain": [0.93, 1.05], "nice": false, "zero": false}, "axis": null},
  "text": {"field": "txt"}}},
{"data": {"name": "botcmp"}, "mark": {"type": "text", "font": "Liberation Serif", "fontSize": 22, "align": "left", "baseline": "alphabetic", "color": "black"},
 "encoding": {
  "x": {"field": "v", "type": "quantitative", "scale": {"domain": [-15, 15], "nice": false, "zero": false}, "axis": null},
  "y": {"field": "t", "type": "quantitative", "scale": {"domain": [0.93, 1.05], "nice": false, "zero": false}, "axis": null},
  "text": {"field": "txt"}}},
{"data": {"name": "botcmpsub"}, "mark": {"type": "text", "font": "Liberation Serif", "fontSize": 14, "align": "left", "baseline": "alphabetic", "color": "black"},
 "encoding": {
  "x": {"field": "v", "type": "quantitative", "scale": {"domain": [-15, 15], "nice": false, "zero": false}, "axis": null},
  "y": {"field": "t", "type": "quantitative", "scale": {"domain": [0.93, 1.05], "nice": false, "zero": false}, "axis": null},
  "text": {"field": "txt"}}},
{"data": {"name": "botann"}, "mark": {"type": "text", "font": "Liberation Sans", "fontSize": 26, "align": "left", "baseline": "alphabetic", "color": "black"},
 "encoding": {
  "x": {"field": "v", "type": "quantitative", "scale": {"domain": [-15, 15], "nice": false, "zero": false}, "axis": null},
  "y": {"field": "t", "type": "quantitative", "scale": {"domain": [0.93, 1.05], "nice": false, "zero": false}, "axis": null},
  "text": {"field": "txt"}}},
{"data": {"name": "botannsub"}, "mark": {"type": "text", "font": "Liberation Sans", "fontSize": 17, "align": "left", "baseline": "alphabetic", "color": "black"},
 "encoding": {
  "x": {"field": "v", "type": "quantitative", "scale": {"domain": [-15, 15], "nice": false, "zero": false}, "axis": null},
  "y": {"field": "t", "type": "quantitative", "scale": {"domain": [0.93, 1.05], "nice": false, "zero": false}, "axis": null},
  "text": {"field": "txt"}}}
]
}
]
}
